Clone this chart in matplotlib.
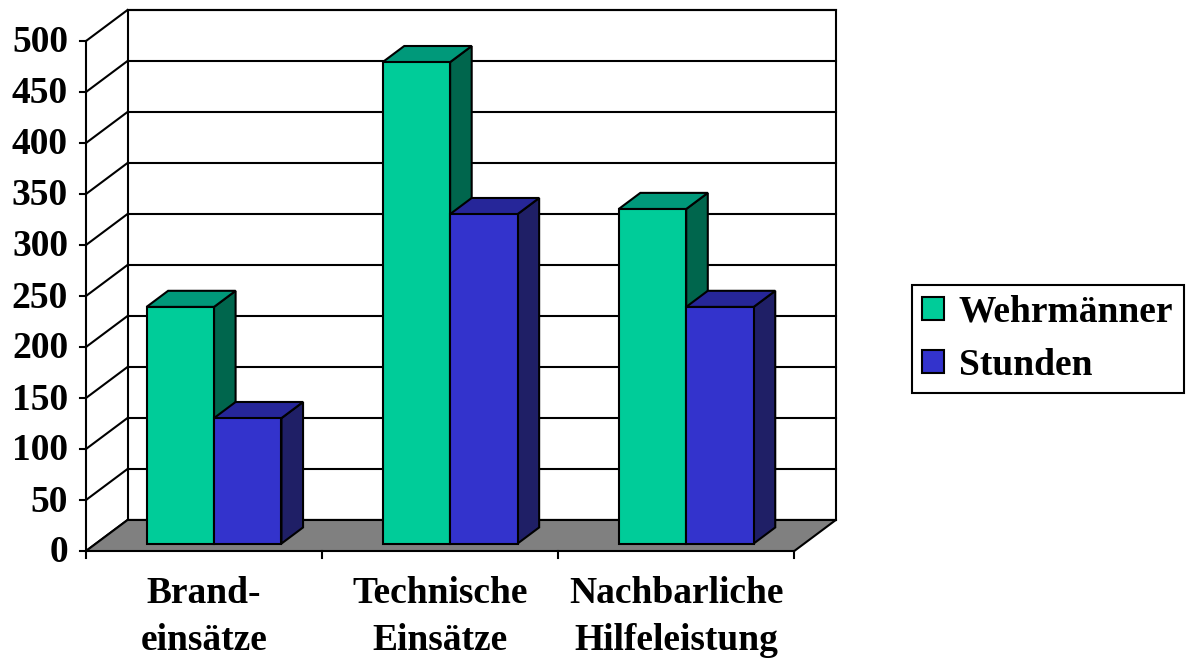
import matplotlib
matplotlib.use("Agg")
import matplotlib.pyplot as plt
from matplotlib.patches import Polygon, Patch
from matplotlib.font_manager import FontProperties

# --- data ---------------------------------------------------------------
categories = ["Brand-\neinsätze", "Technische\nEinsätze", "Nachbarliche\nHilfeleistung"]
series_names = ["Wehrmänner", "Stunden"]
wehrmaenner = [232, 472, 328]
stunden = [123, 323, 232]
y_ticks = list(range(0, 501, 50))

series_values = [wehrmaenner, stunden]
# front / top / side shades of each series
series_colors = [
    ("#00CC99", "#00997A", "#00664D"),
    ("#3333CC", "#262699", "#1F1F66"),
]

W, H, DPI = 1189, 659, 100
fig = plt.figure(figsize=(W / DPI, H / DPI), dpi=DPI)
ax = fig.add_axes([0, 0, 1, 1])
ax.set_axis_off()

# pixel layout of the plotting box
px_x0, px_x3 = 86, 794.3          # front floor edge, left/right
px_y0, px_y500 = 551, 41          # front value axis, 0 and 500
sx = (px_x3 - px_x0) / len(categories)
sy = (px_y0 - px_y500) / 500.0
ax.set_xlim(-px_x0 / sx, (W - px_x0) / sx)
ax.set_ylim(-(H - px_y0) / sy, px_y0 / sy)

# oblique depth offset (full depth of the floor)
DX = 41.5 / sx
DY = 31.0 / sy
ncat = len(categories)
vmax = y_ticks[-1]
LW = 1.5
font = FontProperties(family="Liberation Serif", weight="bold", size=27)


def proj(x, v, d):
    return (x + d * DX, v + d * DY)


# back wall with gridlines
wall = Polygon([proj(0, 0, 1), proj(ncat, 0, 1), proj(ncat, vmax, 1), proj(0, vmax, 1)],
               closed=True, fc="white", ec="black", lw=LW, zorder=1)
ax.add_patch(wall)
for t in y_ticks:
    xa, ya = proj(0, t, 1)
    xb, yb = proj(ncat, t, 1)
    ax.plot([xa, xb], [ya, yb], color="black", lw=LW, zorder=1.1)
    # side wall lines from the value axis back to the wall
    xf, yf = proj(0, t, 0)
    ax.plot([xf, xa], [yf, ya], color="black", lw=LW, zorder=1.1, solid_capstyle="projecting")
    # tick mark and label
    ax.plot([xf - 6 / sx, xf], [yf, yf], color="black", lw=LW, zorder=1.1)
    ax.text(xf - 18 / sx, yf - 11.5 / sy, str(t), ha="right", va="baseline",
            fontproperties=font, zorder=5)

# value axis
ax.plot([0, 0], [0, vmax], color="black", lw=LW, zorder=1.2)

# floor
floor = Polygon([proj(0, 0, 0), proj(ncat, 0, 0), proj(ncat, 0, 1), proj(0, 0, 1)],
                closed=True, fc="#808080", ec="black", lw=LW, zorder=2)
ax.add_patch(floor)
for i in range(ncat + 1):
    ax.plot([i, i], [0, -7 / sy], color="black", lw=LW, zorder=2)

# bars
bw = 1 / 3.5
d0, d1 = 0.24, 0.76
z = 3
for i in range(ncat):
    left = i + 0.5 - bw * len(series_values) / 2
    for j, vals in enumerate(series_values):
        v = vals[i]
        xl = left + j * bw
        xr = xl + bw
        fc, tc, sc = series_colors[j]
        front = [proj(xl, 0, d0), proj(xr, 0, d0), proj(xr, v, d0), proj(xl, v, d0)]
        top = [proj(xl, v, d0), proj(xr, v, d0), proj(xr, v, d1), proj(xl, v, d1)]
        side = [proj(xr, 0, d0), proj(xr, 0, d1), proj(xr, v, d1), proj(xr, v, d0)]
        for pts, c in ((side, sc), (top, tc), (front, fc)):
            ax.add_patch(Polygon(pts, closed=True, fc=c, ec="black", lw=LW,
                                 joinstyle="miter", zorder=z))
        z += 1

# category labels
for i, lab in enumerate(categories):
    for k, line in enumerate(lab.split("\n")):
        ax.text(i + 0.5, -(603 - px_y0 + 47 * k) / sy, line, ha="center", va="baseline",
                fontproperties=font, zorder=5)

# legend
handles = [Patch(fc=c[0], ec="black", lw=LW) for c in series_colors]
leg = fig.legend(handles, series_names, loc="center left",
                 bbox_to_anchor=(912 / W, 1 - 339 / H), prop=font,
                 frameon=True, fancybox=False, edgecolor="black", framealpha=1,
                 handlelength=0.58, handleheight=0.58, handletextpad=0.4,
                 borderpad=0.27, labelspacing=0.48, borderaxespad=0)
leg.get_frame().set_linewidth(LW)

fig.savefig("out.png", dpi=DPI)
